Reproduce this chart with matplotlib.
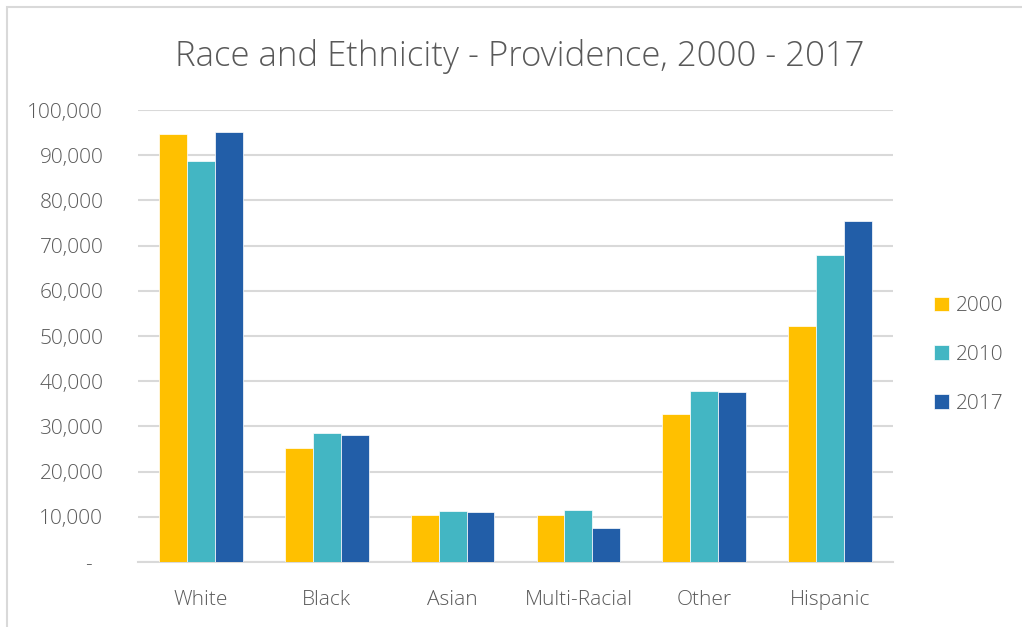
import numpy as np
from matplotlib import pyplot as plt
from matplotlib.patches import Rectangle

categories = ["White", "Black", "Asian", "Multi-Racial", "Other", "Hispanic"]
years = ["2000", "2010", "2017"]
pop_2000 = [94800, 25200, 10300, 10500, 32700, 52200]
pop_2010 = [88700, 28500, 11300, 11500, 37900, 67900]
pop_2017 = [95100, 28000, 11100, 7450, 37700, 75400]
yticks = [0, 10000, 20000, 30000, 40000, 50000, 60000, 70000, 80000, 90000, 100000]

colors = ["#FFC000", "#43B6C3", "#225EA8"]
text_col = "#595959"
grid_col = "#D9D9D9"

plt.rcParams["font.family"] = ["Open Sans", "DejaVu Sans"]
plt.rcParams["font.weight"] = "light"

W, H = 1022, 627
fig = plt.figure(figsize=(W / 100, H / 100), dpi=100)
ax = fig.add_axes([138 / W, 1 - 562 / H, (893 - 138) / W, (562 - 110) / H])

x = np.arange(len(categories))
bw = 0.222
for i, (vals, yr) in enumerate(zip([pop_2000, pop_2010, pop_2017], years)):
    ax.bar(x + (i - 1) * bw, vals, width=bw, color=colors[i], label=yr,
           edgecolor="white", linewidth=0.5, zorder=3)

ax.set_xlim(-0.5, len(categories) - 0.5)
ax.set_ylim(0, 100000)
ax.set_yticks(yticks)
ax.set_yticklabels(["-  "] + [f"{v:,}" for v in yticks[1:]])
ax.set_xticks(x)
ax.set_xticklabels(categories)
ax.tick_params(axis="both", length=0, labelsize=15, labelcolor=text_col)
ax.tick_params(axis="x", pad=20)
ax.tick_params(axis="y", pad=25)
for lab in ax.get_xticklabels() + ax.get_yticklabels():
    lab.set_fontweight("light")
ax.yaxis.grid(True, color=grid_col, linewidth=1.5, zorder=0)
ax.set_axisbelow(True)
for side in ["top", "right", "left"]:
    ax.spines[side].set_visible(False)
ax.spines["bottom"].set_color(grid_col)
ax.spines["bottom"].set_linewidth(1.5)

fig.text(520 / W, 1 - 57 / H, "Race and Ethnicity - Providence, 2000 - 2017",
         ha="center", va="center", fontsize=25, color=text_col, fontweight="light")

leg = ax.legend(loc="center left", bbox_to_anchor=(915 / W, 1 - 355 / H),
                bbox_transform=fig.transFigure, frameon=False, fontsize=15,
                handlelength=0.72, handleheight=0.72, labelspacing=1.38,
                handletextpad=0.35)
for t in leg.get_texts():
    t.set_color(text_col)
    t.set_fontweight("light")

# chart area border (cut off at right and bottom)
fig.patches.append(Rectangle((7 / W, -0.05), 1.1, 1 - 6.5 / H + 0.05,
                             transform=fig.transFigure, fill=False,
                             edgecolor="#D9D9D9", linewidth=1.5))

fig.savefig("out.png", dpi=100)
